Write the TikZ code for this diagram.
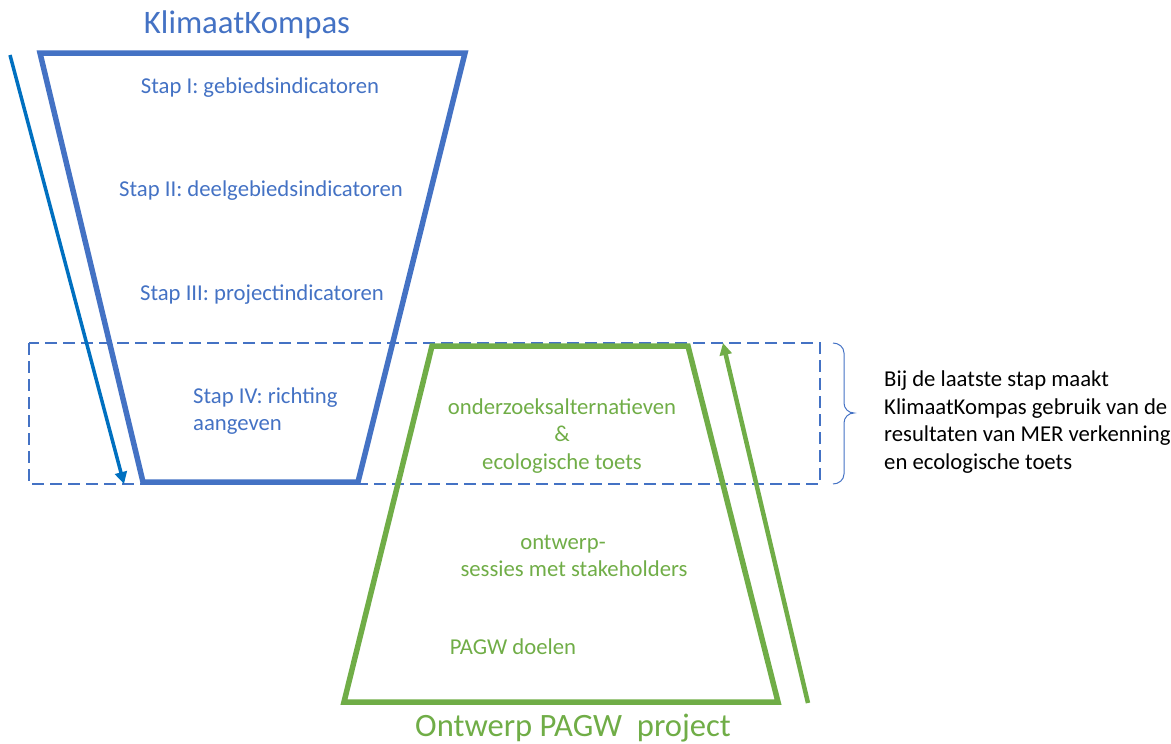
\documentclass[tikz,border=0pt]{standalone}
\usepackage{fontspec}
\setmainfont{Carlito}
\usetikzlibrary{arrows.meta}
\definecolor{kkblue}{HTML}{4472C4}
\definecolor{arrblue}{HTML}{0070C0}
\definecolor{pgreen}{HTML}{70AD47}
\tikzset{
  trapblue/.style={draw=kkblue,line width=5.5pt,line join=miter},
  trapgreen/.style={draw=pgreen,line width=5.5pt,line join=miter},
  dashbox/.style={draw=kkblue,line width=2pt,dash pattern=on 12pt off 6pt},
  flowarrow/.style={-{Triangle[length=12pt,width=12pt]}},
  bluetxt/.style={text=kkblue,font=\fontsize{22.7}{27.5}\selectfont,inner sep=0pt},
  greentxt/.style={text=pgreen,font=\fontsize{22.7}{27.5}\selectfont,inner sep=0pt,align=center},
  blacktxt/.style={text=black,font=\fontsize{22.7}{27.5}\selectfont,inner sep=0pt,align=left},
}
\begin{document}
\begin{tikzpicture}[x=1pt,y=-1pt]
\useasboundingbox (0,0) rectangle (1171,744);
% dashed box
\draw[dashbox] (29,343) rectangle (820,484);
% blue trapezoid
\coordinate (btl) at (40,53);
\coordinate (btr) at (465,53);
\coordinate (bbr) at (358,482);
\coordinate (bbl) at (143,482);
\draw[trapblue] (btl) -- (btr) -- (bbr) -- (bbl) -- cycle;
% green trapezoid
\coordinate (gtl) at (432,346);
\coordinate (gtr) at (688,346);
\coordinate (gbr) at (778,702);
\coordinate (gbl) at (344,702);
\draw[trapgreen] (gtl) -- (gtr) -- (gbr) -- (gbl) -- cycle;
% arrows
\coordinate (ba1) at (10,55);
\coordinate (ba2) at (124,484);
\draw[flowarrow,line width=3.5pt,draw=arrblue,fill=arrblue] (ba1) -- (ba2);
\coordinate (ga1) at (808,703);
\coordinate (ga2) at (723,343);
\draw[flowarrow,line width=4.5pt,draw=pgreen,fill=pgreen] (ga1) -- (ga2);
% brace
\draw[kkblue,line width=1pt] (833,343) to[out=0,in=90] (844,353) -- (844,403) to[out=-90,in=180] (854,413) to[out=180,in=90] (844,423) -- (844,474) to[out=-90,in=0] (833,484);
% texts
\node[text=kkblue,font=\fontsize{32.8}{38}\selectfont,inner sep=0pt] (title) at (247,25) {KlimaatKompas};
\node[bluetxt] (s1) at (260,88) {Stap I: gebiedsindicatoren};
\node[bluetxt] (s2) at (261,191) {Stap II: deelgebiedsindicatoren};
\node[bluetxt] (s3) at (262,295) {Stap III: projectindicatoren};
\node[bluetxt,align=left,anchor=west] (s4) at (193,411) {Stap IV: richting\\aangeven};
\node[greentxt] (g1) at (562,436) {onderzoeksalternatieven\\\&\\ecologische toets};
\node[greentxt] (g2) at (563,556) {ontwerp-\\\hspace*{22pt}sessies met stakeholders};
\node[greentxt] (g3) at (513,647) {PAGW doelen};
\node[text=pgreen,font=\fontsize{32.6}{38}\selectfont,inner sep=0pt] (gtitle) at (573,728) {Ontwerp PAGW\ \ project};
\node[blacktxt,anchor=west] (note) at (884,422) {Bij de laatste stap maakt\\KlimaatKompas gebruik van de\\resultaten van MER verkenning\\en ecologische toets};
\end{tikzpicture}
\end{document}
